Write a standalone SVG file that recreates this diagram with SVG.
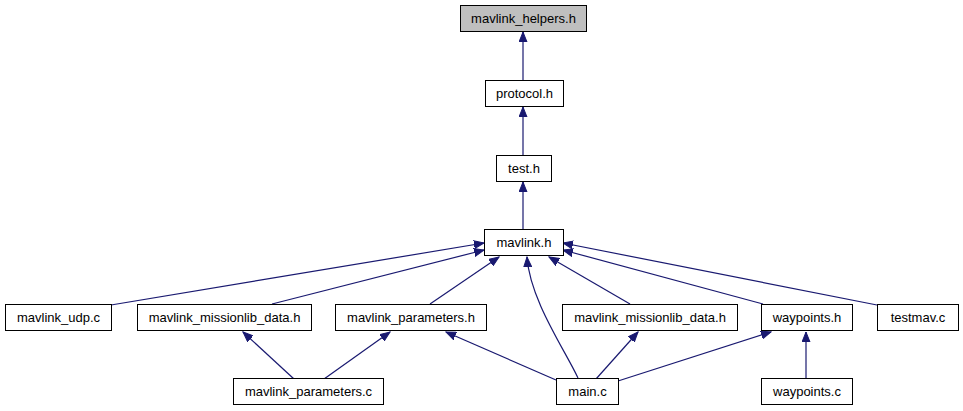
<svg xmlns="http://www.w3.org/2000/svg" width="963" height="411" viewBox="0 0 963 411">
<style>
.n rect{fill:#fff;stroke:#000;stroke-width:1}
.n text{font-family:"Liberation Sans",Arial,sans-serif;font-size:13px;text-anchor:middle;fill:#000}
#n0 rect{fill:#bfbfbf}
.e path{fill:none;stroke:#191970;stroke-width:1.2;marker-end:url(#ah)}
</style>
<defs>
<marker id="ah" markerUnits="userSpaceOnUse" markerWidth="11" markerHeight="9" refX="10" refY="4.5" orient="auto">
<path d="M0,0.5 L10,4.5 L0,8.5 z" fill="#191970" stroke="#191970" stroke-width="1"/>
</marker>
</defs>
<g class="e">
<path d="M523,80 L523,32"/>
<path d="M523,155 L523,107"/>
<path d="M523,229 L523,182"/>
<path d="M111,305 L484,243"/>
<path d="M272,304 L484,250"/>
<path d="M430,304 L499,257"/>
<path d="M578,378 C565,350 530,300 527,257"/>
<path d="M630,304 L549,257"/>
<path d="M763,304 L563,250"/>
<path d="M877,305 L563,243"/>
<path d="M294,379 L243,332"/>
<path d="M324,379 L390,332"/>
<path d="M556,380 L446,332"/>
<path d="M596,379 L638,332"/>
<path d="M618,381 L771,332"/>
<path d="M806,378 L806,332"/>
</g>
<g id="n0" class="n"><rect x="460.5" y="5.5" width="126" height="26"/><text x="523.5" y="23">mavlink_helpers.h</text></g>
<g id="n1" class="n"><rect x="485.5" y="80.5" width="78" height="26"/><text x="524.5" y="98">protocol.h</text></g>
<g id="n2" class="n"><rect x="496.5" y="155.5" width="55" height="26"/><text x="524" y="173">test.h</text></g>
<g id="n3" class="n"><rect x="484.5" y="229.5" width="79" height="26"/><text x="524" y="247">mavlink.h</text></g>
<g id="n4" class="n"><rect x="5.5" y="304.5" width="106" height="26"/><text x="58.5" y="322">mavlink_udp.c</text></g>
<g id="n5" class="n"><rect x="137.5" y="304.5" width="174" height="26"/><text x="224.5" y="322">mavlink_missionlib_data.h</text></g>
<g id="n6" class="n"><rect x="335.5" y="304.5" width="151" height="26"/><text x="411" y="322">mavlink_parameters.h</text></g>
<g id="n7" class="n"><rect x="562.5" y="304.5" width="175" height="26"/><text x="650" y="322">mavlink_missionlib_data.h</text></g>
<g id="n8" class="n"><rect x="761.5" y="304.5" width="91" height="26"/><text x="807" y="322">waypoints.h</text></g>
<g id="n9" class="n"><rect x="877.5" y="304.5" width="81" height="26"/><text x="918" y="322">testmav.c</text></g>
<g id="n10" class="n"><rect x="233.5" y="378.5" width="150" height="26"/><text x="308.5" y="396">mavlink_parameters.c</text></g>
<g id="n11" class="n"><rect x="556.5" y="378.5" width="62" height="26"/><text x="587.5" y="396">main.c</text></g>
<g id="n12" class="n"><rect x="761.5" y="378.5" width="91" height="26"/><text x="807" y="396">waypoints.c</text></g>
</svg>
